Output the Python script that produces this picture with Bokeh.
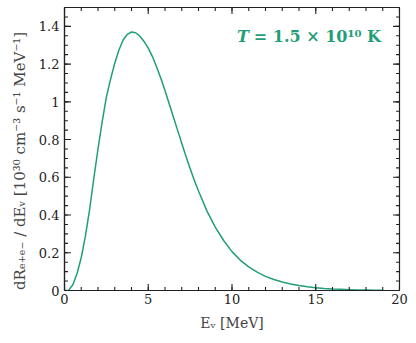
from bokeh.plotting import figure
from bokeh.models import Label, Range1d, FixedTicker
from bokeh.embed import file_html
from bokeh.resources import INLINE

# Data
energy_mev = [0, 0.25, 0.5, 0.75, 1.0, 1.25, 1.5, 1.75, 2.0, 2.25, 2.5, 2.75, 3.0,
              3.25, 3.5, 3.75, 4.0, 4.25, 4.5, 4.75, 5.0, 5.25, 5.5, 5.75, 6.0,
              6.25, 6.5, 6.75, 7.0, 7.25, 7.5, 7.75, 8.0, 8.5, 9.0, 9.5, 10.0,
              10.5, 11.0, 11.5, 12.0, 12.5, 13.0, 13.5, 14.0, 14.5, 15.0, 15.5,
              16.0, 16.5, 17.0, 17.5, 18.0, 18.5, 19.0]
rate = [0.0, 0.002, 0.03, 0.09, 0.175, 0.29, 0.43, 0.595, 0.75, 0.895, 1.025, 1.12, 1.205,
        1.275, 1.328, 1.358, 1.370, 1.366, 1.348, 1.320, 1.285, 1.240, 1.185, 1.125, 1.060,
        0.990, 0.920, 0.850, 0.780, 0.712, 0.647, 0.585, 0.527, 0.422, 0.336, 0.265, 0.206,
        0.160, 0.125, 0.097, 0.075, 0.058, 0.045, 0.034, 0.026, 0.020, 0.015, 0.011,
        0.008, 0.006, 0.0045, 0.003, 0.002, 0.0015, 0.001]

x_major = [0, 5, 10, 15, 20]
x_minor = [v for v in range(0, 21)]
y_major = [0, 0.2, 0.4, 0.6, 0.8, 1.0, 1.2, 1.4]
y_minor = [round(0.05 * i, 2) for i in range(0, 31)]

GREEN = "#1f9e78"
FONT = "DejaVu Serif"
AX = "#222222"

X0, X1, Y0, Y1 = 0, 20, 0, 1.5
FW, FH = 335, 283

p = figure(frame_width=FW, frame_height=FH, output_backend="svg", toolbar_location=None,
           x_range=Range1d(X0, X1), y_range=Range1d(Y0, Y1),
           min_border_left=64, min_border_right=17, min_border_top=7, min_border_bottom=53)
p.grid.visible = False
p.outline_line_color = AX
p.outline_line_width = 1.2

p.line(energy_mev, rate, line_color=GREEN, line_width=1.5, line_join="round")

# inward ticks on all four sides (length converted from pixels to data units)
def ticks_x(vals, px):
    d = px * (Y1 - Y0) / FH
    p.segment(x0=vals, y0=[Y0] * len(vals), x1=vals, y1=[Y0 + d] * len(vals), line_color=AX, line_width=1.1)
    p.segment(x0=vals, y0=[Y1] * len(vals), x1=vals, y1=[Y1 - d] * len(vals), line_color=AX, line_width=1.1)

def ticks_y(vals, px):
    d = px * (X1 - X0) / FW
    p.segment(x0=[X0] * len(vals), y0=vals, x1=[X0 + d] * len(vals), y1=vals, line_color=AX, line_width=1.1)
    p.segment(x0=[X1] * len(vals), y0=vals, x1=[X1 - d] * len(vals), y1=vals, line_color=AX, line_width=1.1)

ticks_x(x_major, 6.5)
ticks_x(x_minor, 3.5)
ticks_y(y_major, 6.5)
ticks_y(y_minor, 3.5)

def style(ax, ticks, minor):
    ax.ticker = FixedTicker(ticks=ticks, minor_ticks=minor)
    ax.major_tick_in = 0
    ax.major_tick_out = 0
    ax.minor_tick_in = 0
    ax.minor_tick_out = 0
    ax.axis_line_color = AX
    ax.axis_line_width = 1.2
    ax.major_label_text_font = FONT
    ax.major_label_text_font_size = "13px"
    ax.major_label_text_color = "#222222"

xa = p.xaxis[0]
style(xa, x_major, x_minor)
xa.major_label_standoff = 3
xa.axis_label = "Eᵥ [MeV]"
xa.axis_label_text_font = FONT
xa.axis_label_text_font_style = "normal"
xa.axis_label_text_font_size = "14px"
xa.axis_label_standoff = 8

ya = p.yaxis[0]
style(ya, y_major, y_minor)
ya.major_label_standoff = 5
ya.major_label_overrides = {0: "0"}
ya.axis_label = "dRₑ₊ₑ₋ / dEᵥ    [10³⁰ cm⁻³  s⁻¹  MeV⁻¹]"
ya.axis_label_text_font = FONT
ya.axis_label_text_font_style = "normal"
ya.axis_label_text_font_size = "15px"
ya.axis_label_standoff = 7

p.add_layout(Label(x=10.3, y=1.345, text="T", text_font=FONT, text_font_style="bold italic",
                   text_font_size="16px", text_color=GREEN, text_baseline="middle"))
p.add_layout(Label(x=11.3, y=1.345, text="= 1.5 × 10¹⁰ K", text_font=FONT, text_font_style="bold",
                   text_font_size="16px", text_color=GREEN, text_baseline="middle"))

open("out.html", "w").write(file_html(p, INLINE))
